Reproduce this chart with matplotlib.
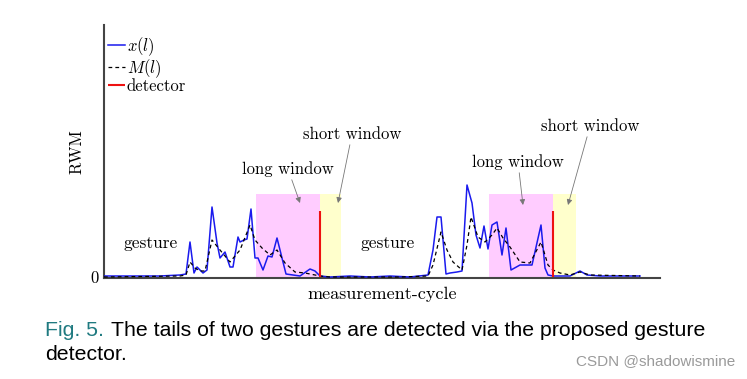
import matplotlib
matplotlib.use("Agg")
import matplotlib.pyplot as plt

cycles = [0, 16, 36, 56, 76, 82, 86, 90, 93, 96, 99, 103, 108, 113, 116, 121,
          126, 129, 134, 136, 140, 143, 147, 151, 154, 159, 164, 168, 173, 178,
          182, 189, 196, 206, 211, 216, 226, 246, 266, 286, 306, 324, 329, 333,
          337, 342, 346, 353, 358, 363, 368, 372, 376, 380, 384, 388, 393, 398,
          402, 407, 416, 428, 437, 441, 444, 449, 466, 476, 483, 496, 516, 536]
rwm = [1, 1, 1, 1, 2, 3, 35, 4, 10, 7, 4, 7, 70, 34, 19, 25,
       10, 10, 40, 35, 37, 38, 68, 19, 19, 7, 21, 20, 39, 19,
       3, 2, 1, 8, 6, 1, 0, 1, 0, 1, 0, 2, 27, 60,
       60, 3, 4, 5, 6, 92, 74, 42, 29, 51, 28, 52, 55, 22,
       49, 7, 12, 12, 52, 9, 2, 1, 1, 6, 2, 1, 1, 1]

m_cycles = [0, 76, 82, 86, 91, 96, 101, 108, 116, 126, 136, 146, 151, 158,
            166, 173, 181, 191, 201, 216, 226, 296, 324, 329, 337, 343, 349,
            358, 363, 367, 374, 381, 388, 393, 399, 406, 416, 426, 437, 444,
            449, 456, 466, 476, 486, 536]
m_rwm = [0, 1, 2, 15, 9, 6, 6, 37, 27, 15, 27, 52, 37, 29,
         22, 27, 14, 5, 4, 1, 0, 0, 1, 12, 45, 27, 15,
         7, 32, 60, 40, 35, 42, 49, 39, 30, 15, 14, 35, 12,
         7, 4, 2, 5, 2, 1]

long_windows = [(152, 216), (385, 449)]
short_windows = [(216, 237), (449, 472)]
window_top = 83
detector_at = [216, 449]
detector_top = 66

plt.rcParams['mathtext.fontset'] = 'cm'
plt.rcParams['axes.formatter.use_mathtext'] = True
serif = 'cmr10'
fs = 12

fig = plt.figure(figsize=(7.47, 3.79), dpi=100)
ax = fig.add_axes([104 / 747, 101 / 379, 556 / 747, 253 / 379])

for (a, b) in long_windows:
    ax.axvspan(a, b, ymin=0, ymax=(window_top + 1) / 253, color='#ffccff', lw=0)
for (a, b) in short_windows:
    ax.axvspan(a, b, ymin=0, ymax=(window_top + 1) / 253, color='#ffffcc', lw=0)

ax.plot(cycles, rwm, color='#1a1aee', lw=1.1, label='$x(l)$', zorder=3)
ax.plot(m_cycles, m_rwm, color='black', lw=0.9, ls=(0, (3, 2.5)), label='$M(l)$', zorder=4)
ax.vlines(detector_at, 0, detector_top, color='#ee1111', lw=1.5, label='detector', zorder=5)

ax.set_xlim(0, 556)
ax.set_ylim(-1, 252)

for s in ['top', 'right']:
    ax.spines[s].set_visible(False)
for s in ['left', 'bottom']:
    ax.spines[s].set_color('#444444')
    ax.spines[s].set_linewidth(1.5)

ax.set_xticks([])
ax.set_yticks([0])
ax.set_yticklabels(['0'], fontfamily=serif, fontsize=fs)
ax.tick_params(axis='y', length=0, pad=4)
ax.set_ylabel('RWM', fontfamily=serif, fontsize=fs, labelpad=4)
ax.set_xlabel('measurement-cycle', fontfamily=serif, fontsize=13, labelpad=6)

leg = ax.legend(loc='upper left', bbox_to_anchor=(-0.004, 0.985), frameon=False,
                handlelength=1.0, handletextpad=0.1, labelspacing=-0.08,
                borderaxespad=0, prop={'family': serif, 'size': fs})

arrow = dict(arrowstyle='-|>', color='#777777', lw=0.6, mutation_scale=8,
             shrinkA=0, shrinkB=0)
txt = dict(fontfamily=serif, fontsize=fs, ha='center', va='bottom')
ax.annotate('long window', xy=(196, 74), xytext=(184, 100), arrowprops=arrow, **txt)
ax.annotate('short window', xy=(234, 74), xytext=(248, 135), arrowprops=arrow, **txt)
ax.annotate('long window', xy=(419, 72), xytext=(414, 107), arrowprops=arrow, **txt)
ax.annotate('short window', xy=(464, 72), xytext=(486, 143), arrowprops=arrow, **txt)
ax.text(47, 34, 'gesture', fontfamily=serif, fontsize=fs + 0.5, ha='center', va='center')
ax.text(284, 34, 'gesture', fontfamily=serif, fontsize=fs + 0.5, ha='center', va='center')

cap_font = 'Liberation Sans'
cap_fs = 15.3
fig.text(45 / 747, 1 - 331 / 379, 'Fig. 5.', color='#1f7a80', fontsize=cap_fs,
         family=cap_font, va='center', ha='left')
fig.text(111 / 747, 1 - 331 / 379, 'The tails of two gestures are detected via the proposed gesture',
         color='black', fontsize=cap_fs, family=cap_font, va='center', ha='left')
fig.text(45 / 747, 1 - 355 / 379, 'detector.', color='black', fontsize=cap_fs,
         family=cap_font, va='center', ha='left')
fig.text(735 / 747, 1 - 361 / 379, 'CSDN @shadowismine', color='#9a9a9a', fontsize=11,
         family=cap_font, va='center', ha='right')

fig.savefig('out.png', dpi=100)
